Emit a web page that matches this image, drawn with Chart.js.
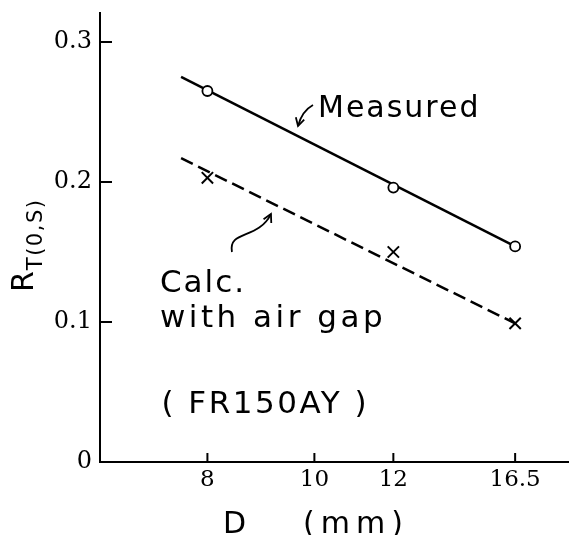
<!DOCTYPE html>
<html>
<head>
<meta charset="utf-8">
<script src="https://cdn.jsdelivr.net/npm/chart.js@4/dist/chart.umd.min.js"></script>
<style>
  body { margin: 0; background: #fff; }
  canvas { display: block; }
</style>
</head>
<body>
<canvas id="grafica" width="569" height="535"></canvas>
<script>
// datos
const diametros = [8, 12, 16.5];
const medido = [0.265, 0.196, 0.154];
const calcConHueco = [0.203, 0.150, 0.099];
const ajusteD = [7.6, 16.5];
const ajusteMedido = [0.275, 0.154];
const ajusteCalc = [0.217, 0.099];
const ticksX = [8, 10, 12, 16.5];
const ticksY = [0, 0.1, 0.2, 0.3];

// el eje x de la figura va como 1/sqrt(D)
const f = v => -1 / Math.sqrt(v);

class InvRootScale extends Chart.LinearScale {
    static id = 'invroot';
    static defaults = {};
    getPixelForValue(value) {
        const a = f(this.min), b = f(this.max);
        return this.getPixelForDecimal((f(value) - a) / (b - a));
    }
    getValueForPixel(pixel) {
        const a = f(this.min), b = f(this.max);
        const t = a + this.getDecimalForPixel(pixel) * (b - a);
        return 1 / (t * t);
    }
}
Chart.register(InvRootScale);

function puntos(xs, ys) {
    return xs.map((x, i) => ({ x: x, y: ys[i] }));
}

function flecha(ctx, p0, c1, c2, tip) {
    ctx.beginPath();
    ctx.moveTo(p0[0], p0[1]);
    if (c2) ctx.bezierCurveTo(c1[0], c1[1], c2[0], c2[1], tip[0], tip[1]);
    else ctx.quadraticCurveTo(c1[0], c1[1], tip[0], tip[1]);
    ctx.stroke();
    const prev = c2 || c1;
    const ang = Math.atan2(tip[1] - prev[1], tip[0] - prev[0]);
    const l = 9;
    ctx.beginPath();
    ctx.moveTo(tip[0] - l * Math.cos(ang - 0.5), tip[1] - l * Math.sin(ang - 0.5));
    ctx.lineTo(tip[0], tip[1]);
    ctx.lineTo(tip[0] - l * Math.cos(ang + 0.5), tip[1] - l * Math.sin(ang + 0.5));
    ctx.stroke();
}

const textos = {
    id: 'textos',
    afterDraw(chart) {
        const ctx = chart.ctx;
        const sx = chart.scales.x, sy = chart.scales.y;
        const area = chart.chartArea;
        ctx.save();
        ctx.fillStyle = '#000';
        ctx.strokeStyle = '#000';
        ctx.lineWidth = 2;
        ctx.lineCap = 'butt';

        // marcas hacia adentro
        ticksY.forEach(v => {
            if (v === 0) return;
            const py = sy.getPixelForValue(v);
            ctx.beginPath();
            ctx.moveTo(area.left, py);
            ctx.lineTo(area.left + 12, py);
            ctx.stroke();
        });
        ticksX.forEach(v => {
            const px = sx.getPixelForValue(v);
            ctx.beginPath();
            ctx.moveTo(px, area.bottom);
            ctx.lineTo(px, area.bottom - 9);
            ctx.stroke();
        });

        ctx.textBaseline = 'alphabetic';
        ctx.textAlign = 'left';

        // Measured
        const mx = sx.getPixelForValue(10.08), my = sy.getPixelForValue(0.2464);
        ctx.font = '30px "DejaVu Sans"';
        ctx.letterSpacing = '2px';
        ctx.fillText('Measured', mx, my);
        ctx.lineWidth = 1.8;
        flecha(ctx, [mx - 5, my - 12], [mx - 16, my - 6], null, [mx - 20, my + 9]);

        // Calc. with air gap
        const cx = sx.getPixelForValue(7.3), cy = sy.getPixelForValue(0.1214);
        ctx.font = '31px "DejaVu Sans"';
        ctx.letterSpacing = '2px';
        ctx.fillText('Calc.', cx, cy);
        ctx.letterSpacing = '3.5px';
        ctx.fillText('with air gap', cx, sy.getPixelForValue(0.0964));
        flecha(ctx, [cx + 72, cy - 40], [cx + 68, cy - 62], [cx + 98, cy - 52], [cx + 111, cy - 78]);

        // (FR150AY)
        ctx.letterSpacing = '2.5px';
        ctx.fillText('( FR150AY )', sx.getPixelForValue(7.32), sy.getPixelForValue(0.035));

        // titulo eje x
        ctx.font = '30px "DejaVu Sans"';
        ctx.letterSpacing = '0px';
        ctx.fillText('D', area.left + 123, area.bottom + 71);
        ctx.letterSpacing = '6px';
        ctx.fillText('(mm)', area.left + 203, area.bottom + 71);

        // titulo eje y con subindice
        ctx.letterSpacing = '0px';
        ctx.translate(area.left - 67, area.top + 279);
        ctx.rotate(-Math.PI / 2);
        ctx.font = '30px "DejaVu Sans"';
        ctx.fillText('R', 0, 0);
        const w = ctx.measureText('R').width;
        ctx.font = '21px "DejaVu Sans"';
        ctx.letterSpacing = '1.5px';
        ctx.fillText('T(0,S)', w + 1, 9);
        ctx.restore();
    }
};

function prepararConfig() {
    return {
        type: 'scatter',
        data: {
            datasets: [
                {
                    label: 'Measured',
                    data: puntos(diametros, medido),
                    pointStyle: 'circle',
                    pointRadius: 5,
                    pointBackgroundColor: '#fff',
                    pointBorderColor: '#000',
                    pointBorderWidth: 1.8
                },
                {
                    label: 'Calc. with air gap',
                    data: puntos(diametros, calcConHueco),
                    pointStyle: 'crossRot',
                    pointRadius: 8,
                    pointBorderColor: '#000',
                    pointBorderWidth: 2
                },
                {
                    label: 'ajuste medido',
                    data: puntos(ajusteD, ajusteMedido),
                    showLine: true,
                    pointRadius: 0,
                    borderColor: '#000',
                    borderWidth: 2.5
                },
                {
                    label: 'ajuste calc',
                    data: puntos(ajusteD, ajusteCalc),
                    showLine: true,
                    pointRadius: 0,
                    borderColor: '#000',
                    borderWidth: 2.5,
                    borderDash: [13, 6]
                }
            ]
        },
        options: {
            responsive: false,
            animation: false,
            layout: { autoPadding: false, padding: { top: 13, left: 0, right: 0, bottom: 0 } },
            plugins: {
                legend: { display: false },
                tooltip: { enabled: false }
            },
            scales: {
                x: {
                    type: 'invroot',
                    min: 6.54,
                    max: 19.34,
                    afterBuildTicks: s => { s.ticks = ticksX.map(v => ({ value: v })); },
                    afterFit: s => { s.height = 73; s.paddingLeft = 0; s.paddingRight = 0; },
                    grid: { display: false, drawTicks: false },
                    border: { display: true, color: '#000', width: 2 },
                    ticks: {
                        color: '#000',
                        padding: 4,
                        maxRotation: 0,
                        autoSkip: false,
                        font: { family: 'DejaVu Serif', size: 23 },
                        callback: v => String(v)
                    }
                },
                y: {
                    min: 0,
                    max: 0.3207,
                    afterBuildTicks: s => { s.ticks = ticksY.map(v => ({ value: v })); },
                    afterFit: s => { s.width = 100; s.paddingTop = 0; s.paddingBottom = 0; },
                    grid: { display: false, drawTicks: false },
                    border: { display: true, color: '#000', width: 2 },
                    ticks: {
                        color: '#000',
                        padding: 8,
                        font: { family: 'DejaVu Serif', size: 24 },
                        callback: v => v === 0 ? '0' : v.toFixed(1)
                    }
                }
            }
        },
        plugins: [textos]
    };
}

function renderGrafica() {
    const chartDOM = document.getElementById('grafica');
    new Chart(chartDOM, prepararConfig());
}

renderGrafica();
</script>
</body>
</html>
